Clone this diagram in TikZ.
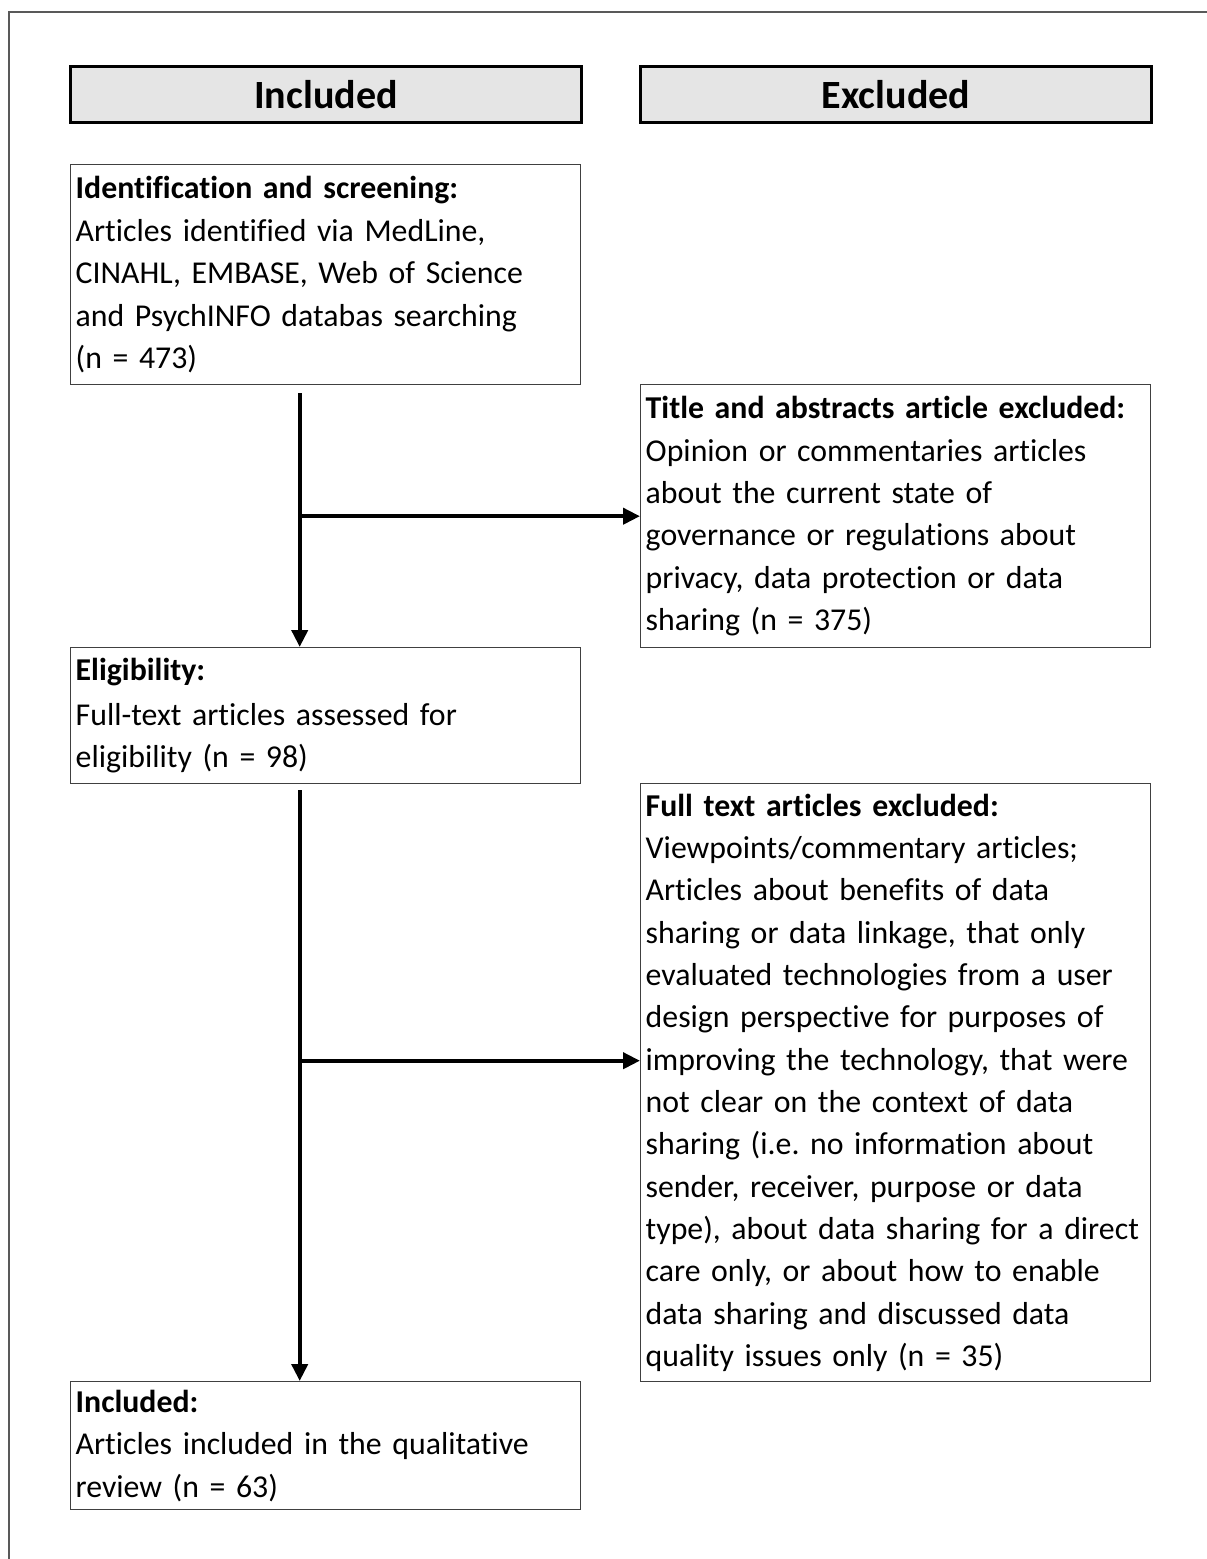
\documentclass[tikz,border=0pt]{standalone}
\usepackage{fontspec}
\setmainfont[Ligatures=NoCommon,Contextuals=NoAlternate,RawFeature={-liga;-clig;-dlig},WordSpace=0.9]{Carlito}
\usetikzlibrary{arrows.meta,positioning}
\newcommand{\boxfont}{\fontsize{18.1}{24.1}\selectfont\frenchspacing\hyphenpenalty=10000}

\begin{document}
\begin{tikzpicture}[>={Triangle[length=0.34cm,width=0.32cm]},
  head/.style={draw=black,line width=1.7pt,fill=black!10,minimum width=10.22cm,minimum height=1.12cm,font=\fontsize{22.8}{26}\selectfont\bfseries,anchor=north west},
  box/.style={draw=black!75,line width=0.8pt,align=left,font=\boxfont,text width=10cm,inner xsep=0.1cm,inner ysep=0.05cm,anchor=north west},
  arr/.style={->,line width=2.3pt}]
\clip (0,0) rectangle (24.14,-31.18);
\draw[black!65,line width=0.9pt] (0.18,-0.24) rectangle (25,-32);
\node[head](hinc) at (1.38,-1.3){Included};
\node[head](hexc) at (12.78,-1.3){Excluded};
\node[box,minimum height=4.4cm](ident) at (1.4,-3.28){\textbf{Identification and screening:}\\Articles identified via MedLine,\\CINAHL, EMBASE, Web of Science\\and PsychINFO databas searching\\(n = 473)};
\node[box,minimum height=5.26cm](tabs) at (12.8,-7.68){\textbf{Title and abstracts article excluded:}\\Opinion or commentaries articles\\about the current state of\\governance or regulations about\\privacy, data protection or data\\sharing (n = 375)};
\node[box,minimum height=2.72cm](elig) at (1.4,-12.94){\textbf{Eligibility:}\\[1pt]Full-text articles assessed for\\eligibility (n = 98)};
\node[box,minimum height=11.96cm](ftex) at (12.8,-15.66){\textbf{Full text articles excluded:}\\Viewpoints/commentary articles;\\Articles about benefits of data\\sharing or data linkage, that only\\evaluated technologies from a user\\design perspective for purposes of\\improving the technology, that were\\not clear on the context of data\\sharing (i.e. no information about\\sender, receiver, purpose or data\\type), about data sharing for a direct\\care only, or about how to enable\\data sharing and discussed data\\quality issues only (n = 35)};
\node[box,minimum height=2.56cm](incl) at (1.4,-27.62){\textbf{Included:}\\Articles included in the qualitative\\review (n = 63)};
\coordinate(j1) at ([xshift=-0.52cm,yshift=-0.16cm]ident.south);
\coordinate(j2) at ([xshift=-0.52cm,yshift=-0.12cm]elig.south);
\coordinate(h2) at ([yshift=0.44cm]ftex.west);
\draw[arr](j1)--([xshift=-0.52cm]elig.north);\draw[arr](j1 |- tabs.west)--(tabs.west);
\draw[arr](j2)--([xshift=-0.52cm]incl.north);\draw[arr](j2 |- h2)--(h2);
\end{tikzpicture}
\end{document}
